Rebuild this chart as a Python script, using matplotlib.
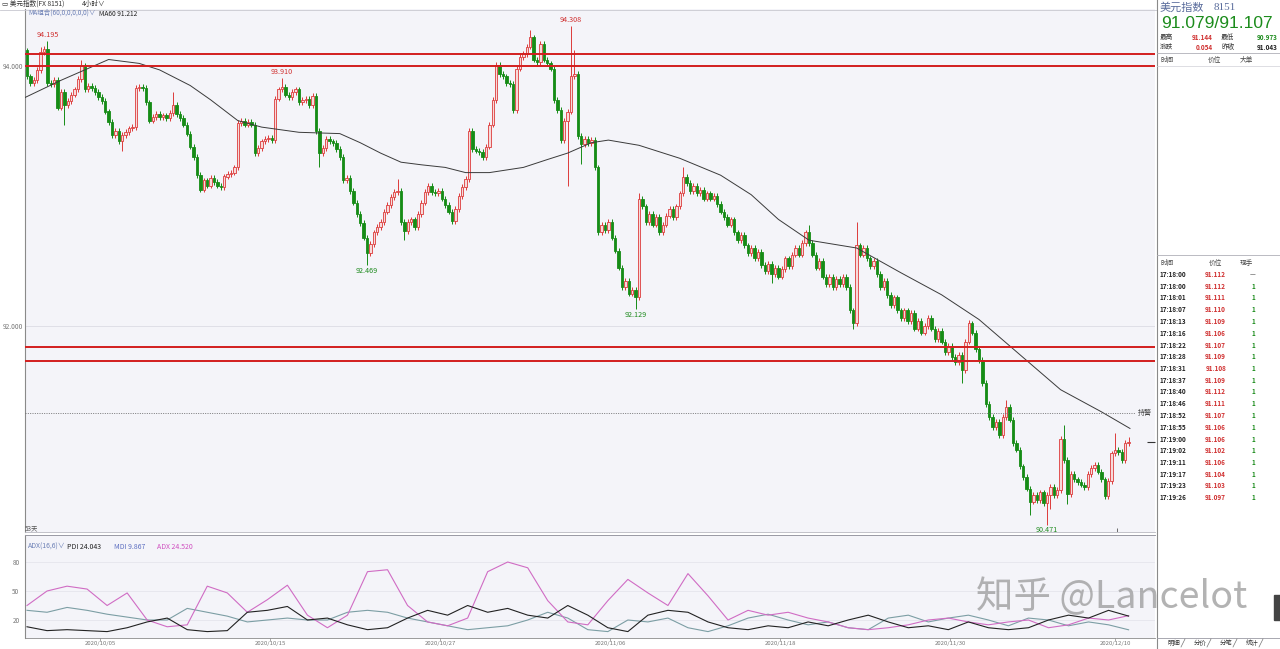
import numpy as np
import matplotlib
matplotlib.use('Agg')
import matplotlib.pyplot as plt
from matplotlib.lines import Line2D
from matplotlib.patches import Rectangle

plt.rcParams['font.family'] = ['Noto Sans CJK SC', 'DejaVu Sans']

# ---------------- data ----------------
first_open = 94.12
closes = [
    93.92, 93.87, 93.89, 93.97, 94.11, 94.13, 93.87, 93.86, 93.89, 93.68,
    93.80, 93.70, 93.73, 93.78, 93.82, 93.90, 94.00, 93.82, 93.85, 93.83,
    93.80, 93.76, 93.73, 93.65, 93.57, 93.47, 93.50, 93.42, 93.47, 93.49,
    93.52, 93.53, 93.83, 93.84, 93.83, 93.72, 93.58, 93.61, 93.63, 93.61,
    93.62, 93.60, 93.64, 93.70, 93.63, 93.60, 93.55, 93.48, 93.38, 93.30,
    93.16, 93.05, 93.12, 93.08, 93.14, 93.11, 93.08, 93.07, 93.15, 93.17,
    93.18, 93.22, 93.56, 93.58, 93.55, 93.57, 93.55, 93.33, 93.37, 93.42,
    93.44, 93.45, 93.43, 93.75, 93.82, 93.84, 93.78, 93.76, 93.80, 93.82,
    93.72, 93.74, 93.75, 93.70, 93.77, 93.50, 93.33, 93.37, 93.44, 93.42,
    93.41, 93.36, 93.30, 93.12, 93.14, 93.04, 92.95, 92.86, 92.79, 92.68,
    92.56, 92.63, 92.72, 92.76, 92.80, 92.88, 92.93, 92.99, 93.03, 93.04,
    92.80, 92.73, 92.80, 92.82, 92.76, 92.86, 92.95, 93.03, 93.08, 93.03,
    93.02, 93.04, 92.98, 92.93, 92.88, 92.81, 92.90, 93.00, 93.07, 93.13,
    93.50, 93.36, 93.35, 93.34, 93.30, 93.38, 93.55, 93.74, 94.01, 93.94,
    93.92, 93.87, 93.86, 93.66, 93.98, 94.07, 94.09, 94.15, 94.22, 94.05,
    94.03, 94.17, 94.05, 94.02, 93.98, 93.74, 93.66, 93.43, 93.58, 93.65,
    93.92, 93.94, 93.46, 93.40, 93.44, 93.41, 93.43, 93.22, 92.72, 92.78,
    92.74, 92.80, 92.68, 92.58, 92.45, 92.30, 92.35, 92.25, 92.28, 92.22,
    92.98, 92.92, 92.80, 92.86, 92.78, 92.84, 92.72, 92.78, 92.85, 92.90,
    92.84, 92.92, 93.02, 93.15, 93.10, 93.04, 93.08, 93.02, 93.05, 92.98,
    93.02, 92.98, 93.00, 92.94, 92.88, 92.84, 92.78, 92.82, 92.72, 92.66,
    92.70, 92.62, 92.56, 92.60, 92.52, 92.57, 92.47, 92.42, 92.48, 92.40,
    92.45, 92.38, 92.44, 92.52, 92.46, 92.55, 92.60, 92.55, 92.64, 92.72,
    92.64, 92.55, 92.45, 92.50, 92.38, 92.32, 92.38, 92.30, 92.36, 92.32,
    92.38, 92.30, 92.12, 92.02, 92.62, 92.55, 92.60, 92.52, 92.46, 92.50,
    92.40, 92.30, 92.35, 92.24, 92.16, 92.22, 92.12, 92.06, 92.12, 92.04,
    92.10, 91.98, 92.04, 91.95, 92.00, 92.06, 91.98, 91.90, 91.96, 91.88,
    91.80, 91.85, 91.76, 91.72, 91.78, 91.66, 91.88, 92.02, 91.95, 91.82,
    91.74, 91.56, 91.40, 91.30, 91.22, 91.26, 91.16, 91.30, 91.38, 91.28,
    91.10, 91.05, 90.92, 90.84, 90.75, 90.65, 90.70, 90.66, 90.72, 90.64,
    90.70, 90.76, 90.70, 90.74, 91.13, 90.97, 90.71, 90.86, 90.82, 90.80,
    90.78, 90.76, 90.86, 90.91, 90.93, 90.88, 90.82, 90.69, 90.81, 91.02,
    91.05, 91.03, 90.97, 91.10, 91.11,
]
# notable wick extremes (candle index -> price)
high_marks = {6: 94.195, 4: 94.15, 16: 94.05, 43: 93.80, 75: 93.910, 109: 93.13,
              148: 94.28, 160: 94.308, 161: 94.12, 180: 93.02, 193: 93.22,
              230: 92.78, 244: 92.80, 277: 92.05, 288: 91.43, 305: 91.24,
              320: 91.18, 324: 91.144}
low_marks = {11: 93.55, 28: 93.35, 86: 93.22, 100: 92.469, 111: 92.66, 159: 93.08,
             163: 93.25, 179: 92.129, 219: 92.33, 243: 91.98, 275: 91.56,
             295: 90.55, 300: 90.471, 301: 90.59, 306: 90.63}
labels_high = {6: '94.195', 75: '93.910', 160: '94.308'}
labels_low = {100: '92.469', 179: '92.129', 300: '90.471'}

ma_idx = [-2, 10, 24, 33, 39, 48, 54, 62, 69, 80, 92, 98, 104, 110, 116, 123, 129,
          136, 146, 153, 159, 166, 171, 180, 192, 204, 213, 221, 230, 244, 257,
          269, 280, 292, 304, 316, 324.4]
ma60 = [93.74, 93.89, 94.05, 94.02, 93.97, 93.85, 93.74, 93.58, 93.53, 93.49, 93.48,
        93.41, 93.33, 93.26, 93.24, 93.22, 93.18, 93.18, 93.22, 93.28, 93.33, 93.41,
        93.43, 93.39, 93.29, 93.16, 93.01, 92.82, 92.66, 92.60, 92.41, 92.24, 92.05,
        91.78, 91.51, 91.34, 91.212]

red_levels = [94.09, 94.00, 91.84, 91.73]
alert_level = 91.33
last_price = 91.107
price_ticks = [94.0, 92.0]
price_tick_labels = ['94.000', '92.000']

adx = [35, 50, 55, 52, 35, 48, 20, 13, 15, 55, 48, 28, 41, 56, 25, 12, 25, 70, 72,
       35, 18, 14, 22, 70, 80, 74, 40, 18, 15, 40, 62, 48, 35, 68, 45, 20, 30, 25,
       28, 22, 18, 12, 10, 12, 15, 20, 22, 18, 15, 18, 20, 12, 15, 22, 20, 24.52]
pdi = [13, 9, 10, 9, 8, 12, 18, 22, 10, 8, 9, 28, 30, 34, 20, 22, 15, 10, 12, 22, 30,
       25, 35, 28, 32, 25, 22, 35, 25, 12, 8, 25, 30, 28, 18, 12, 10, 14, 12, 18, 14,
       20, 25, 18, 12, 14, 10, 18, 12, 10, 12, 20, 25, 22, 30, 24.043]
mdi = [30, 28, 33, 30, 26, 23, 20, 20, 32, 28, 24, 18, 20, 22, 20, 20, 28, 30, 28, 22,
       18, 14, 10, 12, 14, 20, 28, 22, 10, 8, 20, 18, 22, 12, 8, 14, 22, 26, 20, 15, 18,
       12, 10, 22, 25, 18, 22, 25, 20, 14, 22, 20, 14, 18, 15, 9.867]
adx_ticks = [20, 50, 80]

date_idx = [21.5, 71.5, 121.5, 171.5, 221.5, 271.5, 320]
date_labels = ['2020/10/05', '2020/10/15', '2020/10/27', '2020/11/06',
               '2020/11/18', '2020/11/30', '2020/12/10']

tick_times = ['17:18:00', '17:18:00', '17:18:01', '17:18:07', '17:18:13', '17:18:16',
              '17:18:22', '17:18:28', '17:18:31', '17:18:37', '17:18:40', '17:18:46',
              '17:18:52', '17:18:55', '17:19:00', '17:19:02', '17:19:11', '17:19:17',
              '17:19:23', '17:19:26']
tick_prices = ['91.112', '91.112', '91.111', '91.110', '91.109', '91.106', '91.107',
               '91.109', '91.108', '91.109', '91.112', '91.111', '91.107', '91.106',
               '91.106', '91.102', '91.106', '91.104', '91.103', '91.097']
tick_vols = ['—'] + ['1'] * 19

# ---------------- layout helpers ----------------
W, H = 1280, 649
fig = plt.figure(figsize=(W / 100, H / 100), dpi=100, facecolor='white')

def add_ax(x0, y0, x1, y1):
    return fig.add_axes([x0 / W, 1 - y1 / H, (x1 - x0) / W, (y1 - y0) / H])

def ptext(x, y, s, **kw):
    kw.setdefault('va', 'center')
    kw.setdefault('fontsize', 5.5)
    return fig.text(x / W, 1 - y / H, s, **kw)

def pline(xs, ys, **kw):
    fig.add_artist(Line2D([x / W for x in xs], [1 - y / H for y in ys], **kw))

BG = '#f4f4f9'
UP_EDGE = '#dd3b3b'
UP_FACE = '#f7dada'
DOWN = '#168c16'
WICK = 0.022
N = len(closes)
x_left = (25 - 27) / 3.4
x_right = (1155 - 27) / 3.4

# ---------------- main price panel ----------------
ax = add_ax(25, 9, 1155, 532)
ax.set_facecolor(BG)
ax.set_xlim(x_left, x_right)
ax.set_ylim(94 - (532 - 66) / 130, 94 + (66 - 9) / 130)

idx = np.arange(N)
c = np.array(closes)
o = np.r_[first_open, c[:-1]]
hi = np.maximum(o, c) + WICK
lo = np.minimum(o, c) - WICK
for k, v in high_marks.items():
    hi[k] = v
for k, v in low_marks.items():
    lo[k] = v
up = c >= o

for v in price_ticks:
    ax.axhline(v, color='#dcdce4', lw=0.6, zorder=0)

ax.vlines(idx[up], lo[up], hi[up], color=UP_EDGE, lw=0.7, zorder=2)
ax.vlines(idx[~up], lo[~up], hi[~up], color=DOWN, lw=0.7, zorder=2)
body = np.maximum(np.abs(c - o), 0.007)
ax.bar(idx[up], body[up], bottom=np.minimum(o, c)[up], width=0.66,
       facecolor=UP_FACE, edgecolor=UP_EDGE, linewidth=0.6, zorder=3)
ax.bar(idx[~up], body[~up], bottom=np.minimum(o, c)[~up], width=0.66,
       facecolor=DOWN, edgecolor=DOWN, linewidth=0.6, zorder=3)

ax.plot(ma_idx, ma60, color='#3a3a3a', lw=0.7, zorder=4)

for v in red_levels:
    ax.axhline(v, color='#d31f1f', lw=1.4, zorder=5)

ax.hlines(alert_level, x_left, (1135 - 27) / 3.4, colors='#666666', lw=0.6,
          linestyles=(0, (1.2, 1.6)), zorder=4)
ax.text((1138 - 27) / 3.4, alert_level, '持警', fontsize=5, color='#444444',
        va='center', ha='left', clip_on=False)
ax.hlines(last_price, (1147 - 27) / 3.4, x_right, colors='#333333', lw=0.8, clip_on=False)

for k, s in labels_high.items():
    ax.text(k, high_marks[k] + 0.012, s, color='#d03030', fontsize=5.2,
            ha='center', va='bottom', clip_on=False, zorder=6)
for k, s in labels_low.items():
    ax.text(k, low_marks[k] - 0.012, s, color='#1d8a1d', fontsize=5.2,
            ha='center', va='top', clip_on=False, zorder=6)

ax.vlines((1117 - 27) / 3.4, ax.get_ylim()[0], ax.get_ylim()[0] + 0.03,
          color='#555555', lw=0.6)

ax.set_xticks([])
ax.set_yticks(price_ticks)
ax.set_yticklabels(price_tick_labels, fontsize=4.8, color='#777777')
ax.tick_params(axis='y', length=0, pad=1)
for s in ['top', 'right']:
    ax.spines[s].set_visible(False)
ax.spines['left'].set_color('#8a8a8a')
ax.spines['bottom'].set_color('#b8b8c0')
ax.spines['left'].set_linewidth(0.8)
ax.spines['bottom'].set_linewidth(0.6)

# ---------------- ADX panel ----------------
ax2 = add_ax(25, 535, 1155, 638)
ax2.set_facecolor(BG)
ax2.set_xlim(x_left, x_right)
ax2.set_ylim(20 - 18 * 30 / 29, 20 + 85 * 30 / 29)
xs = np.linspace(0, N - 1, len(adx))
for v in adx_ticks:
    ax2.axhline(v, color='#e2e2ea', lw=0.5, zorder=0)
ax2.plot(xs, mdi, color='#7c9ea4', lw=0.8)
ax2.plot(xs, adx, color='#d06cc4', lw=0.8)
ax2.plot(xs, pdi, color='#222222', lw=0.8)
ax2.set_yticks(adx_ticks)
ax2.set_yticklabels([str(v) for v in adx_ticks], fontsize=4.6, color='#777777')
ax2.tick_params(axis='y', length=0, pad=4)
ax2.set_xticks(date_idx)
ax2.set_xticklabels(date_labels, fontsize=4.3, color='#777777')
ax2.tick_params(axis='x', length=2, width=0.5, color='#888888', pad=0.5)
for s in ['top', 'right']:
    ax2.spines[s].set_visible(False)
ax2.spines['left'].set_color('#8a8a8a')
ax2.spines['bottom'].set_color('#8a8a8a')
ax2.spines['left'].set_linewidth(0.8)
ax2.spines['bottom'].set_linewidth(0.6)
pline([25, 1155], [535, 535], color='#9a9aa4', lw=0.7)

ptext(28, 547, 'ADX(16,6)∨', color='#6b7fb5', fontsize=5)
ptext(67, 547, 'PDI 24.043', color='#222222', fontsize=5)
ptext(114, 547, 'MDI 9.867', color='#5b6dc0', fontsize=5)
ptext(157, 547, 'ADX 24.520', color='#d050c0', fontsize=5)
ptext(25, 528, '53天', color='#555555', fontsize=4.6)

# ---------------- top bar ----------------
pline([0, 1157], [10, 10], color='#c8c8d0', lw=0.6)
ptext(2, 4, '▭ 美元指数(FX 8151)', color='#333333', fontsize=4.8)
ptext(82, 4, '4小时∨', color='#333333', fontsize=4.8)
ptext(28, 14, 'MA组合(60,0,0,0,0,0)∨', color='#6b7fb5', fontsize=4.7)
ptext(99, 14, 'MA60 91.212', color='#222222', fontsize=4.8)

# ---------------- right panel ----------------
pline([1157, 1157], [0, 649], color='#8a8a8a', lw=0.8)
ptext(1160, 8, '美元指数', color='#5a6c9c', fontsize=8)
ptext(1214, 8, '8151', color='#5a6c9c', fontsize=8, family=['Liberation Serif', 'DejaVu Serif'])
ptext(1217, 24, '91.079/91.107', color='#1c8c1c', fontsize=12.5, ha='center',
      family=['Liberation Sans', 'DejaVu Sans'])
ptext(1160, 37, '最高', color='#333333', fontsize=4.8)
ptext(1213, 37, '91.144', color='#d03030', fontsize=4.6, ha='right', weight='bold')
ptext(1221, 37, '最低', color='#333333', fontsize=4.8)
ptext(1278, 37, '90.973', color='#1c8c1c', fontsize=4.6, ha='right', weight='bold')
ptext(1160, 47, '涨跌', color='#333333', fontsize=4.8)
ptext(1213, 47, '0.054', color='#d03030', fontsize=4.6, ha='right', weight='bold')
ptext(1221, 47, '昨收', color='#333333', fontsize=4.8)
ptext(1278, 47, '91.043', color='#222222', fontsize=4.6, ha='right', weight='bold')
pline([1157, 1280], [53, 53], color='#b0b0b8', lw=0.6)
ptext(1160, 60, '时间', color='#444444', fontsize=4.8)
ptext(1208, 60, '价位', color='#444444', fontsize=4.8)
ptext(1240, 60, '大单', color='#444444', fontsize=4.8)
pline([1157, 1280], [66, 66], color='#d0d0d8', lw=0.5)

pline([1157, 1280], [255, 255], color='#b0b0b8', lw=0.6)
ptext(1160, 263, '时间', color='#444444', fontsize=4.8)
ptext(1209, 263, '价位', color='#444444', fontsize=4.8)
ptext(1240, 263, '现手', color='#444444', fontsize=4.8)
for k in range(len(tick_times)):
    y = 274.5 + k * 11.75
    ptext(1160, y, tick_times[k], color='#222222', fontsize=4.6, weight='bold')
    ptext(1226, y, tick_prices[k], color='#d03030', fontsize=4.6, ha='right', weight='bold')
    ptext(1253, y, tick_vols[k], color='#1c8c1c' if tick_vols[k] == '1' else '#888888',
          fontsize=4.6, ha='center', weight='bold')

pline([1157, 1280], [638, 638], color='#9a9aa4', lw=0.6)
for xlab, lab in zip([1168, 1194, 1220, 1246], ['明细', '分价', '分笔', '统计']):
    ptext(xlab, 643, lab, color='#333333', fontsize=4.6)
    pline([xlab + 13, xlab + 17], [647, 639], color='#777777', lw=0.5)
fig.add_artist(Rectangle((1274 / W, 1 - 620 / H), 6 / W, 25 / H,
                         transform=fig.transFigure, color='#444444'))

# watermark
ptext(1112, 598, '知乎 @Lancelot', color='#9a9a9a', alpha=0.75, fontsize=27,
      ha='center', family=['Noto Sans CJK SC', 'DejaVu Sans'])

fig.savefig('out.png', dpi=100, facecolor='white')
